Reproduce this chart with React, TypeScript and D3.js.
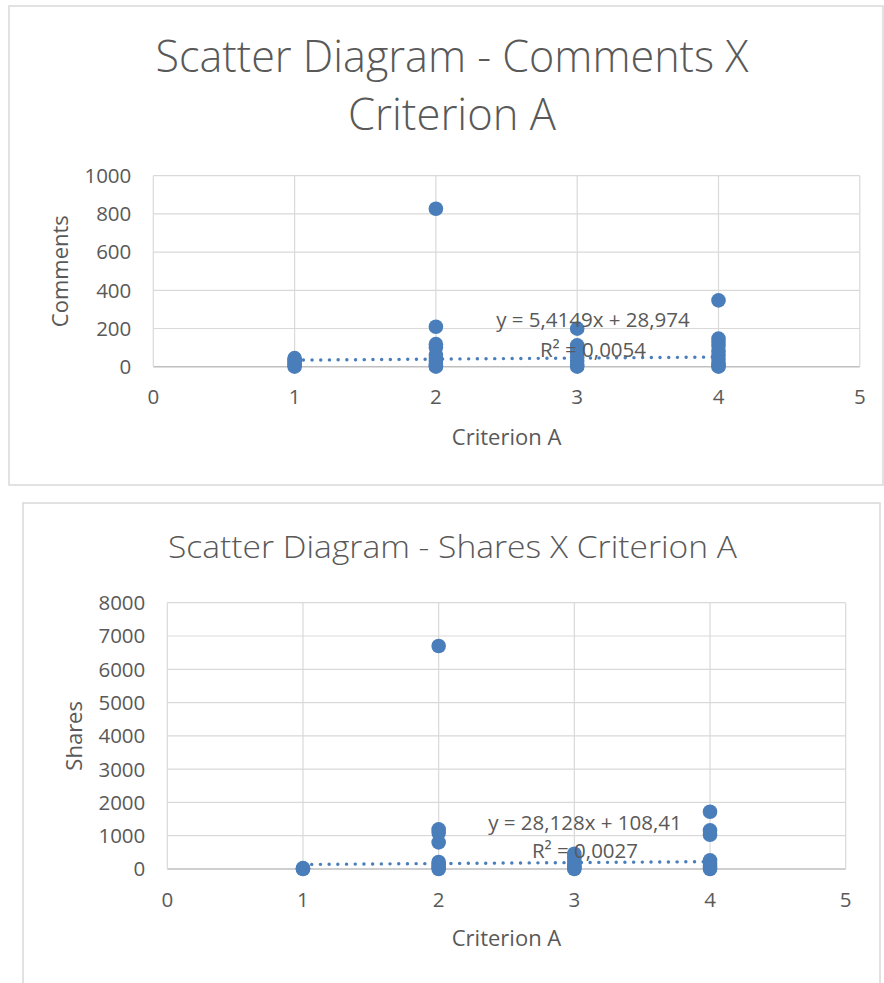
import React from "react";
import * as d3 from "d3";

// Criterion A scale shared by both diagrams
const criterionTicks = [0, 1, 2, 3, 4, 5];

// Comments per post, grouped by Criterion A score
const commentTicks = [0, 200, 400, 600, 800, 1000];
const commentsScore1 = [0, 8, 18, 28, 36, 45];
const commentsScore2 = [827, 209, 118, 100, 62, 45, 30, 15, 5, 0];
const commentsScore3 = [199, 112, 95, 70, 50, 30, 10, 0];
const commentsScore4 = [347, 147, 130, 110, 80, 60, 40, 20, 5, 0];
const commentsSlope = 5.4149;
const commentsIntercept = 28.974;
const commentsR2 = 0.0054;

// Shares per post, grouped by Criterion A score
const shareTicks = [0, 1000, 2000, 3000, 4000, 5000, 6000, 7000, 8000];
const sharesScore1 = [0, 10, 25];
const sharesScore2 = [6700, 1190, 1090, 800, 210, 150, 90, 40, 0];
const sharesScore3 = [460, 350, 250, 150, 80, 20, 0];
const sharesScore4 = [1720, 1160, 1030, 260, 180, 100, 40, 0];
const sharesSlope = 28.128;
const sharesIntercept = 108.41;
const sharesR2 = 0.0027;

const FONT = "'Open Sans', 'Liberation Sans', sans-serif";
const TEXT = "#595959";
const GRID = "#d9d9d9";
const MARK = "#4a7ebb";

type Pt = { x: number; y: number };

function toPoints(groups: number[][]): Pt[] {
  const out: Pt[] = [];
  groups.forEach((vals, i) => vals.forEach((v) => out.push({ x: i + 1, y: v })));
  return out;
}

const comma = (n: number) => String(n).replace(".", ",");

type PanelProps = {
  frame: { x: number; y: number; w: number; h: number };
  plot: { left: number; right: number; top: number; bottom: number };
  titleLines: { text: string; y: number; size: number; width: number }[];
  titleX: number;
  yTicks: number[];
  yLabel: string;
  yLabelX: number;
  points: Pt[];
  slope: number;
  intercept: number;
  r2: number;
  eq: { x: number; y1: number; y2: number };
  xTickY: number;
  xLabelY: number;
};

function Panel(p: PanelProps) {
  const x = d3
    .scaleLinear()
    .domain([criterionTicks[0], criterionTicks[criterionTicks.length - 1]])
    .range([p.plot.left, p.plot.right]);
  const y = d3
    .scaleLinear()
    .domain([p.yTicks[0], p.yTicks[p.yTicks.length - 1]])
    .range([p.plot.bottom, p.plot.top]);
  const xs = p.points.map((d) => d.x);
  const trendX = [d3.min(xs) as number, d3.max(xs) as number];
  const line = d3
    .line<number>()
    .x((v) => x(v))
    .y((v) => y(p.slope * v + p.intercept));
  const midY = (p.plot.top + p.plot.bottom) / 2;

  return (
    <g fontFamily={FONT} fill={TEXT}>
      <rect
        x={p.frame.x}
        y={p.frame.y}
        width={p.frame.w}
        height={p.frame.h}
        fill="#fff"
        stroke={GRID}
        strokeWidth={1.5}
      />
      {p.titleLines.map((t, i) => (
        <text
          key={i}
          x={p.titleX}
          y={t.y}
          fontSize={t.size}
          fontWeight={300}
          textAnchor="middle"
          textLength={t.width}
          lengthAdjust="spacingAndGlyphs"
        >
          {t.text}
        </text>
      ))}
      {/* horizontal gridlines */}
      {p.yTicks.map((t) => (
        <line
          key={"h" + t}
          x1={p.plot.left}
          x2={p.plot.right}
          y1={y(t)}
          y2={y(t)}
          stroke={t === 0 ? "#bfbfbf" : GRID}
          strokeWidth={t === 0 ? 1.5 : 1.2}
        />
      ))}
      {/* vertical gridlines */}
      {criterionTicks.map((t) => (
        <line
          key={"v" + t}
          x1={x(t)}
          x2={x(t)}
          y1={p.plot.top}
          y2={p.plot.bottom}
          stroke={GRID}
          strokeWidth={1.2}
        />
      ))}
      {p.yTicks.map((t) => (
        <text
          key={"yl" + t}
          x={p.plot.left - 22}
          y={y(t)}
          dy="0.36em"
          fontSize={20.5}
          textAnchor="end"
        >
          {t}
        </text>
      ))}
      {criterionTicks.map((t) => (
        <text key={"xl" + t} x={x(t)} y={p.xTickY} fontSize={20.5} textAnchor="middle">
          {t}
        </text>
      ))}
      <text x={(p.plot.left + p.plot.right) / 2} y={p.xLabelY} fontSize={22} textAnchor="middle">
        Criterion A
      </text>
      <text
        transform={`translate(${p.yLabelX},${midY}) rotate(-90)`}
        fontSize={22}
        textAnchor="middle"
      >
        {p.yLabel}
      </text>
      <path
        d={line(trendX) || ""}
        fill="none"
        stroke={MARK}
        strokeWidth={3.4}
        strokeLinecap="round"
        strokeDasharray="0.1 8.6"
      />
      {p.points.map((d, i) => (
        <circle key={i} cx={x(d.x)} cy={y(d.y)} r={7.3} fill={MARK} />
      ))}
      <text x={p.eq.x} y={p.eq.y1} fontSize={20.5} textAnchor="middle">
        {`y = ${comma(p.slope)}x + ${comma(p.intercept)}`}
      </text>
      <text x={p.eq.x} y={p.eq.y2} fontSize={20.5} textAnchor="middle">
        {`R² = ${comma(p.r2)}`}
      </text>
    </g>
  );
}

export default function App() {
  const comments = toPoints([commentsScore1, commentsScore2, commentsScore3, commentsScore4]);
  const shares = toPoints([sharesScore1, sharesScore2, sharesScore3, sharesScore4]);
  return (
    <svg
      width={884}
      height={983}
      style={{ position: "absolute", left: 0, top: 0, background: "#fff" }}
    >
      <Panel
        frame={{ x: 9, y: 6, w: 874, h: 479 }}
        plot={{ left: 153.3, right: 859.8, top: 175.7, bottom: 366.7 }}
        titleX={452}
        titleLines={[
          { text: "Scatter Diagram - Comments X", y: 72, size: 44, width: 593 },
          { text: "Criterion A", y: 130, size: 44, width: 208 },
        ]}
        yTicks={commentTicks}
        yLabel="Comments"
        yLabelX={68}
        points={comments}
        slope={commentsSlope}
        intercept={commentsIntercept}
        r2={commentsR2}
        eq={{ x: 593, y1: 327, y2: 357 }}
        xTickY={404}
        xLabelY={445}
      />
      <Panel
        frame={{ x: 23, y: 503, w: 857, h: 500 }}
        plot={{ left: 167.3, right: 845.7, top: 602.7, bottom: 869 }}
        titleX={452.5}
        titleLines={[
          { text: "Scatter Diagram - Shares X Criterion A", y: 558, size: 31, width: 569 },
        ]}
        yTicks={shareTicks}
        yLabel="Shares"
        yLabelX={82}
        points={shares}
        slope={sharesSlope}
        intercept={sharesIntercept}
        r2={sharesR2}
        eq={{ x: 585, y1: 830, y2: 858 }}
        xTickY={907}
        xLabelY={946}
      />
    </svg>
  );
}
